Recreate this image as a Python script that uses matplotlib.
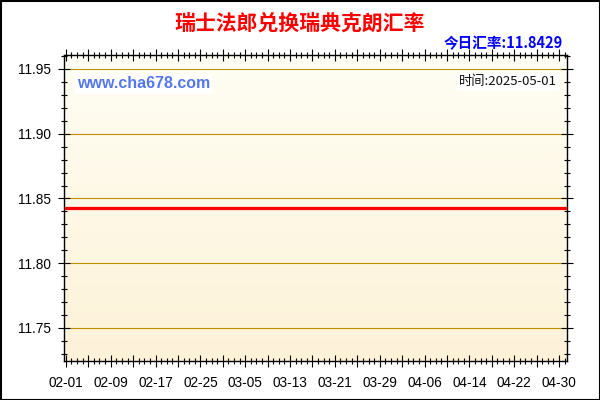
import numpy as np
import pandas as pd
import matplotlib
matplotlib.use('Agg')
import matplotlib.pyplot as plt
import matplotlib.dates as mdates
from matplotlib.ticker import MultipleLocator, FixedLocator
from matplotlib.patches import Rectangle

plt.rcParams['font.family'] = ['Liberation Sans', 'Noto Sans CJK SC', 'DejaVu Sans']

# data
title = '瑞士法郎兑换瑞典克朗汇率'
today_rate = 11.8429
update_date = '2025-05-01'
site = 'www.cha678.com'
dates = pd.date_range('2025-02-01', '2025-05-01', freq='D')
rates = [11.8429] * len(dates)
tick_labels = ['02-01', '02-09', '02-17', '02-25', '03-05', '03-13',
               '03-21', '03-29', '04-06', '04-14', '04-22', '04-30']
y_ticks = [11.75, 11.80, 11.85, 11.90, 11.95]

fig = plt.figure(figsize=(6, 4), dpi=100)
fig.patch.set_facecolor('white')
ax = fig.add_axes([64/600, 1-361/400, (567-64)/600, (361-55)/400])

# gradient background of the plot area (pale at top, warmer at bottom)
grad = np.linspace(0, 1, 256).reshape(-1, 1)
cmap = matplotlib.colors.LinearSegmentedColormap.from_list('bg', ['#FFFEF4', '#FDF2D8'])
ax.imshow(grad, aspect='auto', cmap=cmap, extent=[0, 1, 0, 1], origin='upper',
          transform=ax.transAxes, zorder=0)

for y in y_ticks:
    ax.axhline(y, color='#BE9000', lw=0.8, zorder=1)

ax.plot(dates, rates, color='#FF0000', lw=2.3, zorder=3)

ax.set_xlim(dates[0] - pd.Timedelta(hours=8), dates[-1] + pd.Timedelta(hours=10))
ax.set_ylim(11.7245, 11.9608)

# x ticks: every 4 days long, every day short, labels every 8 days
label_pos = [mdates.date2num(pd.Timestamp('2025-' + t)) for t in tick_labels]
major_pos = mdates.date2num(pd.date_range('2025-02-01', '2025-05-01', freq='4D'))
ax.xaxis.set_major_locator(FixedLocator(major_pos))
ax.xaxis.set_minor_locator(FixedLocator(mdates.date2num(dates)))
ax.set_xticklabels([tick_labels[label_pos.index(p)] if p in label_pos else '' for p in major_pos])

ax.set_yticks(y_ticks)
ax.set_yticklabels(['%.2f' % v for v in y_ticks])
ax.yaxis.set_minor_locator(MultipleLocator(0.01))

ax.tick_params(which='major', direction='inout', length=9, width=0.8,
               labelsize=9.8, colors='black', top=True, right=True)
ax.tick_params(axis='y', which='major', pad=5)
ax.tick_params(axis='x', which='major', pad=6)
ax.tick_params(which='minor', direction='inout', length=5, width=0.8,
               top=True, right=True)
for s in ax.spines.values():
    s.set_linewidth(1)
    s.set_color('black')

fig.text(0.5, 1-23/400, title, ha='center', va='center', color='#FF0000',
         fontsize=15, fontweight='bold', family=['Noto Sans CJK SC', 'DejaVu Sans'])
fig.text(563/600, 1-43/400, '今日汇率:%.4f' % today_rate, ha='right', va='center',
         color='#0000FF', fontsize=10.5, fontweight='bold',
         family=['Noto Sans CJK SC', 'DejaVu Sans'])
fig.text(77/600, 1-84/400, site, ha='left', va='center', color='#5577EE',
         fontsize=11.5, fontweight='bold',
         bbox=dict(facecolor='white', edgecolor='none', pad=1.5))
fig.text(557/600, 1-82/400, '时间:' + update_date, ha='right', va='center',
         color='#111111', fontsize=9.5,
         family=['Noto Sans CJK SC', 'DejaVu Sans'],
         bbox=dict(facecolor='white', edgecolor='none', pad=1.5))

fig.patches.append(Rectangle((0.5/600, 0.5/400), 1-1/600, 1-1/400,
                             transform=fig.transFigure, fill=False,
                             edgecolor='black', lw=1.5))

fig.savefig('out.png', dpi=100)
